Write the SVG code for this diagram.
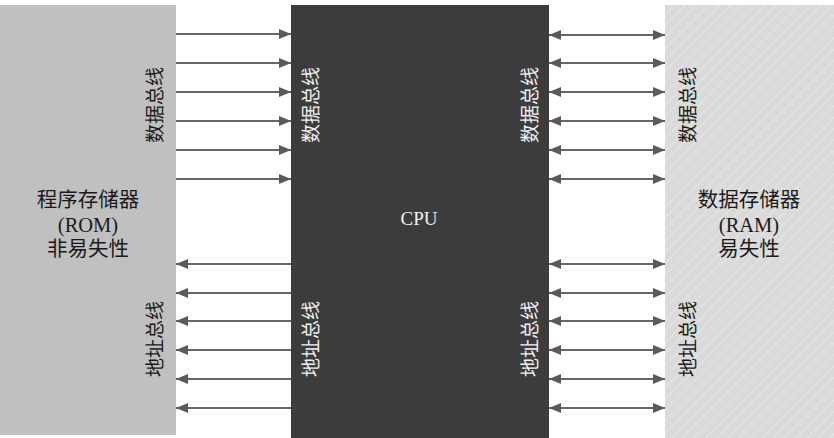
<svg xmlns="http://www.w3.org/2000/svg" width="834" height="438" viewBox="0 0 834 438">
<style>
.lbl{font-family:"Liberation Serif","Noto Sans CJK SC",serif;font-size:20.5px;fill:#1a1a1a;text-anchor:middle}
.vl{font-family:"Liberation Serif","Noto Sans CJK SC",serif;font-size:19px;text-anchor:middle;dominant-baseline:central}
.dark{fill:#1a1a1a}
.light{fill:#f0f0f0}
.ar{stroke:#666666;stroke-width:2;fill:none}
</style>
<defs>
<marker id="ah" markerUnits="userSpaceOnUse" markerWidth="13" markerHeight="11" refX="12" refY="5.5" orient="auto-start-reverse">
<path d="M0,0.5 L12,5.5 L0,10.5 Z" fill="#5a5a5a"/>
</marker>
<pattern id="hatch" patternUnits="userSpaceOnUse" width="8" height="8" patternTransform="rotate(45)">
<rect width="8" height="8" fill="#dadada"/>
<line x1="0" y1="0" x2="0" y2="8" stroke="#e6e6e6" stroke-width="2"/>
</pattern>
</defs>
<rect width="834" height="438" fill="#ffffff"/>
<g id="rom">
<rect x="0" y="5" width="176" height="430" fill="#c0c0c0"/>
<text class="lbl" x="88" y="207">程序存储器</text>
<text class="lbl" x="88" y="232">(ROM)</text>
<text class="lbl" x="88" y="256">非易失性</text>
<text class="vl dark" transform="translate(155,105) rotate(-90)">数据总线</text>
<text class="vl dark" transform="translate(155,339) rotate(-90)">地址总线</text>
</g>
<g id="cpu">
<rect x="291" y="5" width="258" height="433" fill="#3c3c3c"/>
<text class="lbl light" x="419" y="225" style="font-size:19px">CPU</text>
<text class="vl light" transform="translate(311,105) rotate(-90)">数据总线</text>
<text class="vl light" transform="translate(311,339) rotate(-90)">地址总线</text>
<text class="vl light" transform="translate(530,105) rotate(-90)">数据总线</text>
<text class="vl light" transform="translate(530,339) rotate(-90)">地址总线</text>
</g>
<g id="ram">
<rect x="665" y="5" width="169" height="433" fill="url(#hatch)"/>
<text class="lbl" x="749" y="207">数据存储器</text>
<text class="lbl" x="749" y="232">(RAM)</text>
<text class="lbl" x="749" y="256">易失性</text>
<text class="vl dark" transform="translate(688,105) rotate(-90)">数据总线</text>
<text class="vl dark" transform="translate(688,339) rotate(-90)">地址总线</text>
</g>
<g id="connectors">
<g marker-end="url(#ah)" class="ar">
<line x1="176" y1="34" x2="291" y2="34"/>
<line x1="176" y1="63" x2="291" y2="63"/>
<line x1="176" y1="92" x2="291" y2="92"/>
<line x1="176" y1="121" x2="291" y2="121"/>
<line x1="176" y1="150" x2="291" y2="150"/>
<line x1="176" y1="179" x2="291" y2="179"/>
<line x1="291" y1="264" x2="176" y2="264"/>
<line x1="291" y1="293" x2="176" y2="293"/>
<line x1="291" y1="321" x2="176" y2="321"/>
<line x1="291" y1="350" x2="176" y2="350"/>
<line x1="291" y1="379" x2="176" y2="379"/>
<line x1="291" y1="408" x2="176" y2="408"/>
</g>
<g marker-start="url(#ah)" marker-end="url(#ah)" class="ar">
<line x1="549" y1="35" x2="665" y2="35"/>
<line x1="549" y1="63" x2="665" y2="63"/>
<line x1="549" y1="92" x2="665" y2="92"/>
<line x1="549" y1="121" x2="665" y2="121"/>
<line x1="549" y1="150" x2="665" y2="150"/>
<line x1="549" y1="179" x2="665" y2="179"/>
<line x1="549" y1="264" x2="665" y2="264"/>
<line x1="549" y1="293" x2="665" y2="293"/>
<line x1="549" y1="321" x2="665" y2="321"/>
<line x1="549" y1="350" x2="665" y2="350"/>
<line x1="549" y1="379" x2="665" y2="379"/>
<line x1="549" y1="408" x2="665" y2="408"/>
</g>
</g>
</svg>
